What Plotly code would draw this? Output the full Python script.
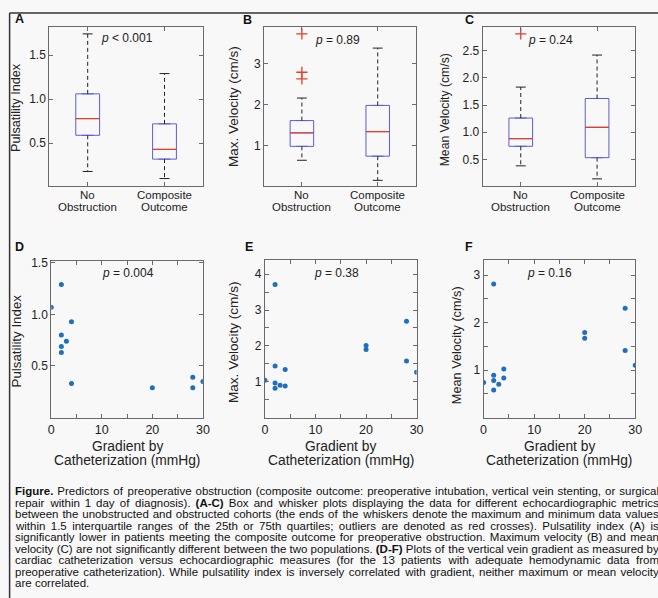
import json
import plotly.graph_objects as go
from plotly.subplots import make_subplots

# ---------------- data ----------------
groups = [["No", "Obstruction"], ["Composite", "Outcome"]]
# box stats: lower whisker, q1, median, q3, upper whisker
pi_box = [[0.18, 0.59, 0.78, 1.06, 1.74], [0.10, 0.32, 0.43, 0.72, 1.29]]
maxv_box = [[0.64, 0.98, 1.31, 1.61, 2.16], [0.15, 0.74, 1.34, 1.98, 3.38]]
meanv_box = [[0.38, 0.74, 0.88, 1.26, 1.83], [0.14, 0.53, 1.09, 1.62, 2.42]]
maxv_outliers = [3.73, 2.79, 2.63]   # no obstruction group
meanv_outliers = [2.81]              # no obstruction group

grad_d = [0, 2, 4, 2, 3, 2, 2, 4, 20, 28, 28, 30]
pi_d = [1.07, 1.29, 0.93, 0.80, 0.74, 0.69, 0.63, 0.33, 0.29, 0.39, 0.29, 0.35]
grad_e = [0, 2, 2, 2, 2, 3, 4, 4, 20, 20, 28, 28, 30]
maxv_e = [1.04, 3.71, 1.44, 0.96, 0.82, 0.90, 1.34, 0.88, 2.01, 1.90, 2.69, 1.58, 1.26]
grad_f = [0, 2, 2, 2, 2, 3, 4, 4, 20, 20, 28, 28, 30]
meanv_f = [0.74, 2.81, 0.89, 0.78, 0.58, 0.70, 1.02, 0.83, 1.79, 1.67, 2.30, 1.41, 1.10]

p_texts = ["<i>p</i> < 0.001", "<i>p</i> = 0.89", "<i>p</i> = 0.24",
           "<i>p</i> = 0.004", "<i>p</i> = 0.38", "<i>p</i> = 0.16"]
panel_letters = ["A", "B", "C", "D", "E", "F"]
y_titles = ["Pulsatility Index", "Max. Velocity (cm/s)", "Mean Velocity (cm/s)",
            "Pulsatility Index", "Max. Velocity (cm/s)", "Mean Velocity (cm/s)"]
x_title_lines = ["Gradient by", "Catheterization (mmHg)"]

caption_lines = [
    "Figure. Predictors of preoperative obstruction (composite outcome: preoperative intubation, vertical vein stenting, or surgical",
    "repair within 1 day of diagnosis). (A-C) Box and whisker plots displaying the data for different echocardiographic metrics",
    "between the unobstructed and obstructed cohorts (the ends of the whiskers denote the maximum and minimum data values",
    "within 1.5 interquartile ranges of the 25th or 75th quartiles; outliers are denoted as red crosses). Pulsatility index (A) is",
    "significantly lower in patients meeting the composite outcome for preoperative obstruction. Maximum velocity (B) and mean",
    "velocity (C) are not significantly different between the two populations. (D-F) Plots of the vertical vein gradient as measured by",
    "cardiac catheterization versus echocardiographic measures (for the 13 patients with adequate hemodynamic data from",
    "preoperative catheterization). While pulsatility index is inversely correlated with gradient, neither maximum or mean velocity",
    "are correlated.",
]
bold_words = {"Figure.", "(A-C)", "(D-F)"}

# ---------------- layout helpers ----------------
W, H = 658, 598
FONT = "Liberation Sans, Arial, sans-serif"
BG = "#f8f8f8"
BOX_BLUE = "#5a5fd0"
RED = "#e0402a"
DOT = "#1f6fbf"
AXC = "#6a6a6a"

def px(x):
    return x / W

def py(y):
    return 1 - y / H

# panel pixel boxes: x0, x1, y0(top), y1(bottom)
panels = [
    (47, 203, 22, 183), (265, 419, 22, 183), (487, 642, 22, 183),
    (49, 203, 258, 416), (266, 420, 257, 416), (488, 642, 257, 416),
]
y_ranges = [[0.01, 1.82], [0, 3.9], [0, 2.94], [0, 1.52], [0, 4.4], [0, 3.32]]
y_ticks = [([0.5, 1.0, 1.5], ".1f", None), ([1, 2, 3], "d", None), ([0.5, 1.0, 1.5, 2.0, 2.5], ".1f", None),
           ([0.5, 1.0, 1.5], ".1f", None), ([1, 2, 3, 4], "d", 0.5), ([1, 2, 3], "d", 0.5)]

fig = make_subplots(rows=2, cols=3)

box_sets = [pi_box, maxv_box, meanv_box]
outlier_sets = [[], maxv_outliers, meanv_outliers]
BW = 0.31
CW = 0.065
for k in range(3):
    for g, st in enumerate(box_sets[k]):
        pos = g + 1
        lo, q1, med, q3, hi = st
        fig.add_trace(go.Box(x=[pos], q1=[q1], median=[med], q3=[q3], lowerfence=[q1], upperfence=[q3],
                             width=BW, line=dict(color=BOX_BLUE, width=1), fillcolor="rgba(0,0,0,0)",
                             boxpoints=False, showlegend=False, hoverinfo="skip"), row=1, col=k + 1)
        fig.add_trace(go.Scatter(x=[pos, pos, None, pos, pos], y=[q3, hi, None, q1, lo], mode="lines",
                                 line=dict(color="#222", width=1, dash="4px,3px"), showlegend=False,
                                 hoverinfo="skip"), row=1, col=k + 1)
        fig.add_trace(go.Scatter(x=[pos - CW, pos + CW, None, pos - CW, pos + CW], y=[hi, hi, None, lo, lo],
                                 mode="lines", line=dict(color="#222", width=1), showlegend=False,
                                 hoverinfo="skip"), row=1, col=k + 1)
        fig.add_trace(go.Scatter(x=[pos - BW / 2, pos + BW / 2], y=[med, med], mode="lines",
                                 line=dict(color=RED, width=1.3), showlegend=False, hoverinfo="skip"),
                      row=1, col=k + 1)
    if outlier_sets[k]:
        fig.add_trace(go.Scatter(x=[1] * len(outlier_sets[k]), y=outlier_sets[k], mode="markers",
                                 marker=dict(symbol="cross-thin", size=8, line=dict(color=RED, width=1.3)),
                                 showlegend=False, hoverinfo="skip"), row=1, col=k + 1)

for k, (xs, ys) in enumerate([(grad_d, pi_d), (grad_e, maxv_e), (grad_f, meanv_f)]):
    fig.add_trace(go.Scatter(x=xs, y=ys, mode="markers", marker=dict(size=5, color=DOT),
                             showlegend=False, hoverinfo="skip"), row=2, col=k + 1)

layout_axes = {}
for i, (x0, x1, y0, y1) in enumerate(panels):
    n = "" if i == 0 else str(i + 1)
    common = dict(showline=True, linecolor=AXC, linewidth=1, mirror="ticks", ticks="inside",
                  ticklen=4, tickcolor=AXC, tickwidth=1, showgrid=False, zeroline=False,
                  tickfont=dict(family=FONT, size=12, color="#222"))
    if i < 3:
        xa = dict(common, domain=[px(x0), px(x1)], range=[0.5, 2.5], tickmode="array",
                  tickvals=[1, 2], showticklabels=False)
    else:
        xa = dict(common, domain=[px(x0), px(x1)], range=[0, 30], tickmode="array",
                  tickvals=[0, 10, 20, 30], tickfont=dict(family=FONT, size=12.5, color="#222"),
                  minor=dict(dtick=5, ticks="inside", ticklen=4, tickcolor=AXC))
    tv, fmt, minor = y_ticks[i]
    ya = dict(common, domain=[py(y1), py(y0)], range=y_ranges[i], tickmode="array", tickvals=tv,
              tickformat=fmt)
    if minor:
        ya["minor"] = dict(dtick=minor, ticks="inside", ticklen=4, tickcolor=AXC)
    layout_axes["xaxis" + n] = xa
    layout_axes["yaxis" + n] = ya
fig.update_layout(**layout_axes)

ann = []
def add_text(x, y, text, size, angle=0, xanchor="center", color="#222", xref="paper", xval=None,
             align="center"):
    ann.append(dict(x=px(x) if xval is None else xval, y=py(y), xref=xref, yref="paper", text=text,
                    showarrow=False, xanchor=xanchor, yanchor="middle", textangle=angle, borderpad=0,
                    borderwidth=0, align=align, font=dict(family=FONT, size=size, color=color)))
    return len(ann) - 1

# category labels of box plots (two lines each, placed at the axis category positions)
for k in range(3):
    xr = "x" if k == 0 else "x%d" % (k + 1)
    for g, lines in enumerate(groups):
        add_text(0, 191.5, lines[0], 11.5, xref=xr, xval=g + 1)
        add_text(0, 204, lines[1], 11.5, xref=xr, xval=g + 1)

# panel letters
for lt, (x, y) in zip(panel_letters, [(17, 14), (248, 15), (473.5, 15), (17, 244.5), (250, 244), (473.5, 244)]):
    add_text(x, y, "<b>%s</b>" % lt, 12.5, color="#111")
# p-values
for t, (x, y) in zip(p_texts, [(126, 33), (339.5, 35), (555.5, 35), (127, 270), (339, 270), (555, 270)]):
    add_text(x, y, t, 12)
# y titles
yt_pos = [(13, 103), (234, 102.5), (449, 106), (13.5, 339), (233.5, 340), (461, 343)]
yt_size = [12.7, 13.5, 12.2, 13.3, 13.6, 12.7]
for t, (x, y), s in zip(y_titles, yt_pos, yt_size):
    add_text(x, y, t, s, angle=-90)
# x titles (lower row)
for (x0, x1, y0, y1) in panels[3:]:
    add_text((x0 + x1) / 2, 445, x_title_lines[0], 13.8)
    add_text((x0 + x1) / 2, 459, x_title_lines[1], 13.8)

# ---------------- justified caption (one text per word) ----------------
HELV = {' ': 278, '(': 333, ')': 333, ',': 278, '-': 333, '.': 278, ':': 278, ';': 278,
        '0': 556, '1': 556, '2': 556, '3': 556, '4': 556, '5': 556, '6': 556, '7': 556, '8': 556, '9': 556,
        'A': 667, 'B': 667, 'C': 722, 'D': 722, 'E': 667, 'F': 611, 'M': 833, 'P': 667, 'W': 944,
        'a': 556, 'b': 556, 'c': 500, 'd': 556, 'e': 556, 'f': 278, 'g': 556, 'h': 556, 'i': 222, 'j': 222,
        'k': 500, 'l': 222, 'm': 833, 'n': 556, 'o': 556, 'p': 556, 'q': 556, 'r': 333, 's': 500, 't': 278,
        'u': 556, 'v': 500, 'w': 722, 'x': 500, 'y': 500, 'z': 500}
HELVB = dict(HELV)
HELVB.update({'A': 722, 'C': 722, 'D': 722, 'F': 611, 'e': 556, 'g': 611, 'i': 278, 'r': 389, 'u': 611})

def tw(s, size, bold):
    tab = HELVB if bold else HELV
    return sum(round(tab.get(c, 556) * size / 1000.0) for c in s)

CAP_X = 12.3
CAP_W = 644.0
CAP_SIZE = 11.5
space = tw(" ", CAP_SIZE, False)
cap_y0, cap_dy = 490.6, 11.55
cap_index = []
for li, line in enumerate(caption_lines):
    words = line.split(" ")
    widths = [tw(w, CAP_SIZE, w in bold_words) for w in words]
    if li < len(caption_lines) - 1 and len(words) > 1:
        gap = max((CAP_W - sum(widths)) / (len(words) - 1), 0.9 * space)
    else:
        gap = space
    xcur = CAP_X
    idxs = []
    for w, wd in zip(words, widths):
        txt = "<b>%s</b>" % w if w in bold_words else w
        idxs.append(add_text(xcur, cap_y0 + li * cap_dy, txt, CAP_SIZE, xanchor="left", align="left",
                             color="#111"))
        xcur += wd + gap
    cap_index.append(idxs)

# frame of the figure (clipped at right and bottom)
shapes = [
    dict(type="line", xref="paper", yref="paper", x0=px(6.7), x1=1.2, y0=py(8), y1=py(8),
         line=dict(color="#333", width=1.5)),
    dict(type="line", xref="paper", yref="paper", x0=px(6.7), x1=px(6.7), y0=py(8), y1=-0.2,
         line=dict(color="#333", width=1.5)),
]

fig.update_layout(width=W, height=H, margin=dict(l=0, r=0, t=0, b=0), paper_bgcolor=BG, plot_bgcolor=BG,
                  annotations=ann, shapes=shapes, showlegend=False,
                  font=dict(family=FONT, size=12, color="#222"))

# In the browser: measure the real word widths and spread the words of each line evenly
justify_js = """
document.body.style.margin='0';document.body.style.overflow='hidden';
document.documentElement.style.overflow='hidden';
var capIdx = %s;
var capW = %f;
function justifyCaption(){
  for (var li = 0; li < capIdx.length; li++) {
    var els = capIdx[li].map(function(i){ return document.querySelector('g.annotation[data-index="' + i + '"]'); });
    if (els.some(function(e){ return !e; })) continue;
    var txts = els.map(function(e){ return e.querySelector('text'); });
    var rects = txts.map(function(t){ return t.getBoundingClientRect(); });
    var ws = rects.map(function(r){ return r.width; });
    var sum = ws.reduce(function(a, b){ return a + b; }, 0);
    var n = els.length;
    var gap;
    if (li < capIdx.length - 1 && n > 1) { gap = Math.max((capW - sum) / (n - 1), 1.5); }
    else { gap = 3.3; }
    var x = rects[0].left;
    for (var k = 0; k < n; k++) {
      var dx = x - rects[k].left;
      els[k].setAttribute('transform', 'translate(' + dx + ',0)');
      x += ws[k] + gap;
    }
  }
}
justifyCaption();
""" % (json.dumps(cap_index), CAP_W)

fig.write_html("out.html", config={"displayModeBar": False}, post_script=justify_js)
